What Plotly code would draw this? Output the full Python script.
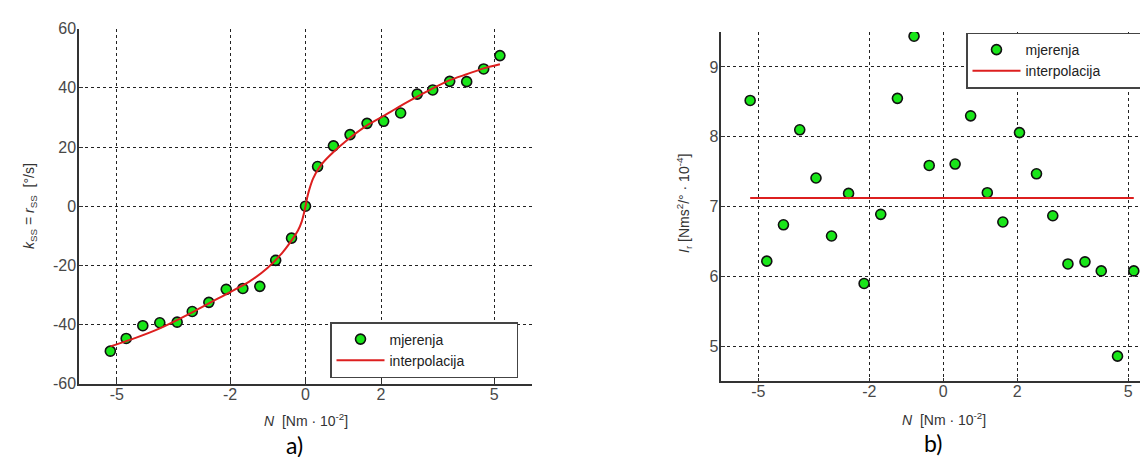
import plotly.graph_objects as go

W, H = 1148, 457

# ---- data ----
N_left = [-5.17, -4.75, -4.31, -3.86, -3.40, -3.00, -2.56, -2.10, -1.66, -1.21, -0.79, -0.37, 0.0,
          0.32, 0.74, 1.18, 1.63, 2.07, 2.52, 2.96, 3.37, 3.82, 4.27, 4.72, 5.15]
k_ss = [-49.0, -44.7, -40.4, -39.4, -39.2, -35.6, -32.5, -28.1, -27.8, -27.1, -18.3, -10.8, 0.0,
        13.4, 20.4, 24.2, 28.0, 28.7, 31.5, 37.9, 39.3, 42.2, 42.1, 46.4, 50.9]

N_interp = [-5.17, -4.5, -3.86, -3.0, -2.1, -1.5, -1.0, -0.6, -0.35, -0.2, -0.1, -0.03, 0.0,
            0.05, 0.1, 0.2, 0.38, 0.65, 1.13, 1.63, 2.07, 2.52, 2.96, 3.37, 3.82, 4.27, 4.72, 5.15]
k_interp = [-47.4, -44.5, -41.3, -35.9, -29.7, -25.6, -20.8, -15.5, -11.2, -8.2, -5.2, -1.8, 0.0,
            3.2, 5.6, 9.3, 13.4, 17.2, 22.6, 27.3, 30.5, 33.9, 37.0, 39.8, 42.6, 44.6, 46.6, 48.0]

N_right = [-5.22, -4.77, -4.32, -3.88, -3.44, -3.02, -2.56, -2.14, -1.69, -1.24, -0.79, -0.38,
           0.32, 0.74, 1.19, 1.61, 2.06, 2.52, 2.96, 3.37, 3.83, 4.27, 4.71, 5.15]
I_r = [8.52, 6.22, 6.74, 8.10, 7.41, 6.58, 7.19, 5.90, 6.89, 8.55, 9.44, 7.59,
       7.61, 8.30, 7.20, 6.78, 8.06, 7.47, 6.87, 6.18, 6.21, 6.08, 4.86, 6.08]
I_interp_x = [-5.22, 5.15]
I_interp_y = [7.125, 7.125]

x_ticks = [-5, -2, 0, 2, 5]
x_tick_labels = ['-5', '-2', '0', '2', '5']
y_ticks_left = [-60, -40, -20, 0, 20, 40, 60]
y_tick_labels_left = ['-60', '-40', '-20', '0', '20', '40', '60']
y_ticks_right = [5, 6, 7, 8, 9]
y_tick_labels_right = ['5', '6', '7', '8', '9']

series_names = ['mjerenja', 'interpolacija']

GREEN = '#19e619'
RED = '#dd1f1f'
AX = '#333333'
FONT = 'Liberation Sans, Arial, sans-serif'
PAD = '\u00a0' * 12

def px_x(p):
    return p / W

def px_y(p):
    return 1 - p / H

fig = go.Figure()

mk = dict(color=GREEN, size=10, line=dict(color='#111111', width=1.6))

fig.add_trace(go.Scatter(x=N_left, y=k_ss, mode='markers', marker=mk, name=series_names[0],
                         xaxis='x', yaxis='y', legend='legend'))
fig.add_trace(go.Scatter(x=N_interp, y=k_interp, mode='lines',
                         line=dict(color=RED, width=2, shape='spline', smoothing=0.6),
                         name=series_names[1] + PAD, xaxis='x', yaxis='y', legend='legend'))
fig.add_trace(go.Scatter(x=N_right, y=I_r, mode='markers', marker=mk, name=series_names[0],
                         xaxis='x2', yaxis='y2', legend='legend2'))
fig.add_trace(go.Scatter(x=I_interp_x, y=I_interp_y, mode='lines', line=dict(color=RED, width=2),
                         name=series_names[1] + PAD, xaxis='x2', yaxis='y2', legend='legend2'))

axis_common = dict(
    showline=True, linecolor=AX, linewidth=1.5, mirror=False,
    showgrid=True, gridcolor='#222222', gridwidth=1, griddash='3px,3px',
    zeroline=False, ticks='inside', ticklen=4, tickcolor=AX,
    tickfont=dict(family=FONT, size=16, color='#484848'),
    automargin=False, fixedrange=True,
)

legend_common = dict(
    xanchor='left', yanchor='top', bgcolor='white', bordercolor='#444444', borderwidth=1.5,
    font=dict(family=FONT, size=14, color='#222222'), itemwidth=48, tracegroupgap=0,
)

fig.update_layout(
    width=W, height=H,
    margin=dict(l=0, r=0, t=0, b=0),
    paper_bgcolor='white', plot_bgcolor='white',
    xaxis=dict(domain=[px_x(71), px_x(524)], range=[-6, 6], tickvals=x_ticks, ticktext=x_tick_labels,
               anchor='y', ticklabelstandoff=-5, **axis_common),
    yaxis=dict(domain=[px_y(375.7), px_y(20.7)], range=[-60, 60], tickvals=y_ticks_left,
               ticktext=y_tick_labels_left, anchor='x', ticklabelstandoff=-2, **axis_common),
    xaxis2=dict(domain=[px_x(713.3), 1.0], range=[-6, 5.75], tickvals=x_ticks, ticktext=x_tick_labels,
                anchor='y2', ticklabelstandoff=-5, **axis_common),
    yaxis2=dict(domain=[px_y(373.3), px_y(24)], range=[4.5, 9.5], tickvals=y_ticks_right,
                ticktext=y_tick_labels_right, anchor='x2', ticklabelstandoff=-2, **axis_common),
    legend=dict(x=px_x(322), y=px_y(314), **legend_common),
    legend2=dict(x=px_x(958), y=px_y(24.5), **legend_common),
    showlegend=True,
)

ann_font = dict(family=FONT, size=14, color='#333333')
annotations = [
    dict(text='<i>k</i><sub>SS</sub> = <i>r</i><sub>SS</sub>  [°/s]', x=px_x(22), y=px_y(198),
         textangle=-90, font=ann_font),
    dict(text='<i>I</i><sub>r</sub> [Nms<sup>2</sup>/° · 10<sup>-4</sup>]', x=px_x(676), y=px_y(196),
         textangle=-90, font=ann_font),
    dict(text='<i>N</i>  [Nm · 10<sup>-2</sup>]', x=px_x(298), y=px_y(412), font=ann_font),
    dict(text='<i>N</i>  [Nm · 10<sup>-2</sup>]', x=px_x(936), y=px_y(411), font=ann_font),
    dict(text='a)', x=px_x(286), y=px_y(437), font=dict(family='Lato, Carlito, sans-serif', size=23, color='black')),
    dict(text='b)', x=px_x(925), y=px_y(435), font=dict(family='Lato, Carlito, sans-serif', size=23, color='black')),
]
for a in annotations:
    a.update(xref='paper', yref='paper', showarrow=False, xanchor='center', yanchor='middle')
fig.update_layout(annotations=annotations)

fig.write_html('out.html', config={'displayModeBar': False})
